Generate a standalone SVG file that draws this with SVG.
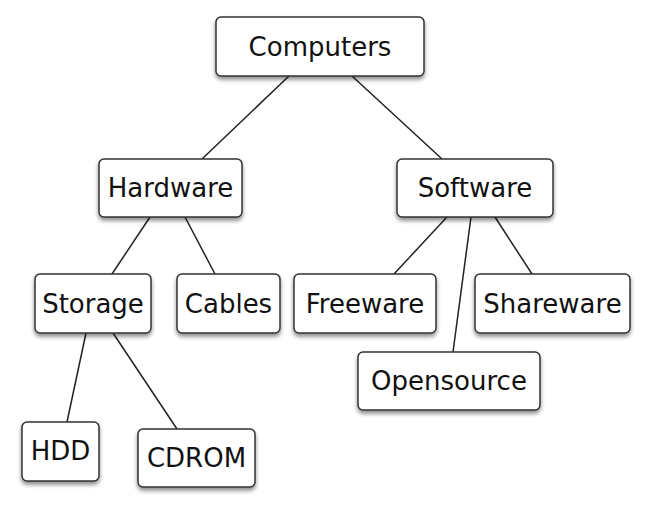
<svg xmlns="http://www.w3.org/2000/svg" width="650" height="514" viewBox="0 0 650 514">
<defs>
<filter id="sh" x="-10%" y="-10%" width="120%" height="140%">
<feGaussianBlur in="SourceAlpha" stdDeviation="2"/>
<feOffset dx="0" dy="3" result="b"/>
<feComponentTransfer><feFuncA type="linear" slope="0.45"/></feComponentTransfer>
<feMerge><feMergeNode/><feMergeNode in="SourceGraphic"/></feMerge>
</filter>
</defs>
<style>
.box{fill:#fff;stroke:#333;stroke-width:1.5;filter:url(#sh)}
.lbl{font-family:"DejaVu Sans",Verdana,sans-serif;font-size:26px;fill:#111;text-anchor:middle}
.edge{stroke:#222;stroke-width:1.5;fill:none}
</style>
<rect width="650" height="514" fill="#fff"/>
<g id="connectors">
<line class="edge" x1="289" y1="76" x2="202" y2="159"/>
<line class="edge" x1="352" y1="76" x2="442" y2="159"/>
<line class="edge" x1="150" y1="217" x2="112" y2="274"/>
<line class="edge" x1="185" y1="217" x2="215" y2="274"/>
<line class="edge" x1="447" y1="217" x2="394" y2="274"/>
<line class="edge" x1="471" y1="217" x2="453" y2="352"/>
<line class="edge" x1="495" y1="217" x2="532" y2="274"/>
<line class="edge" x1="86" y1="333" x2="67" y2="422"/>
<line class="edge" x1="113" y1="333" x2="177" y2="429"/>
</g>
<g id="computers"><rect class="box" x="216" y="17" width="208" height="59" rx="5"/><text class="lbl" x="320" y="56">Computers</text></g>
<g id="hardware"><rect class="box" x="99" y="159" width="143" height="58" rx="5"/><text class="lbl" x="170.5" y="197">Hardware</text></g>
<g id="software"><rect class="box" x="397" y="159" width="156" height="58" rx="5"/><text class="lbl" x="475" y="197">Software</text></g>
<g id="storage"><rect class="box" x="35" y="274" width="116" height="59" rx="5"/><text class="lbl" x="93" y="313">Storage</text></g>
<g id="cables"><rect class="box" x="177" y="274" width="103" height="59" rx="5"/><text class="lbl" x="228.5" y="313">Cables</text></g>
<g id="freeware"><rect class="box" x="294" y="274" width="142" height="59" rx="5"/><text class="lbl" x="365" y="313">Freeware</text></g>
<g id="shareware"><rect class="box" x="475" y="274" width="155" height="59" rx="5"/><text class="lbl" x="552.5" y="313">Shareware</text></g>
<g id="opensource"><rect class="box" x="358" y="352" width="182" height="58" rx="5"/><text class="lbl" x="449" y="390">Opensource</text></g>
<g id="hdd"><rect class="box" x="22" y="422" width="77" height="59" rx="5"/><text class="lbl" x="60.5" y="460">HDD</text></g>
<g id="cdrom"><rect class="box" x="138" y="429" width="117" height="58" rx="5"/><text class="lbl" x="196.5" y="467">CDROM</text></g>
</svg>
